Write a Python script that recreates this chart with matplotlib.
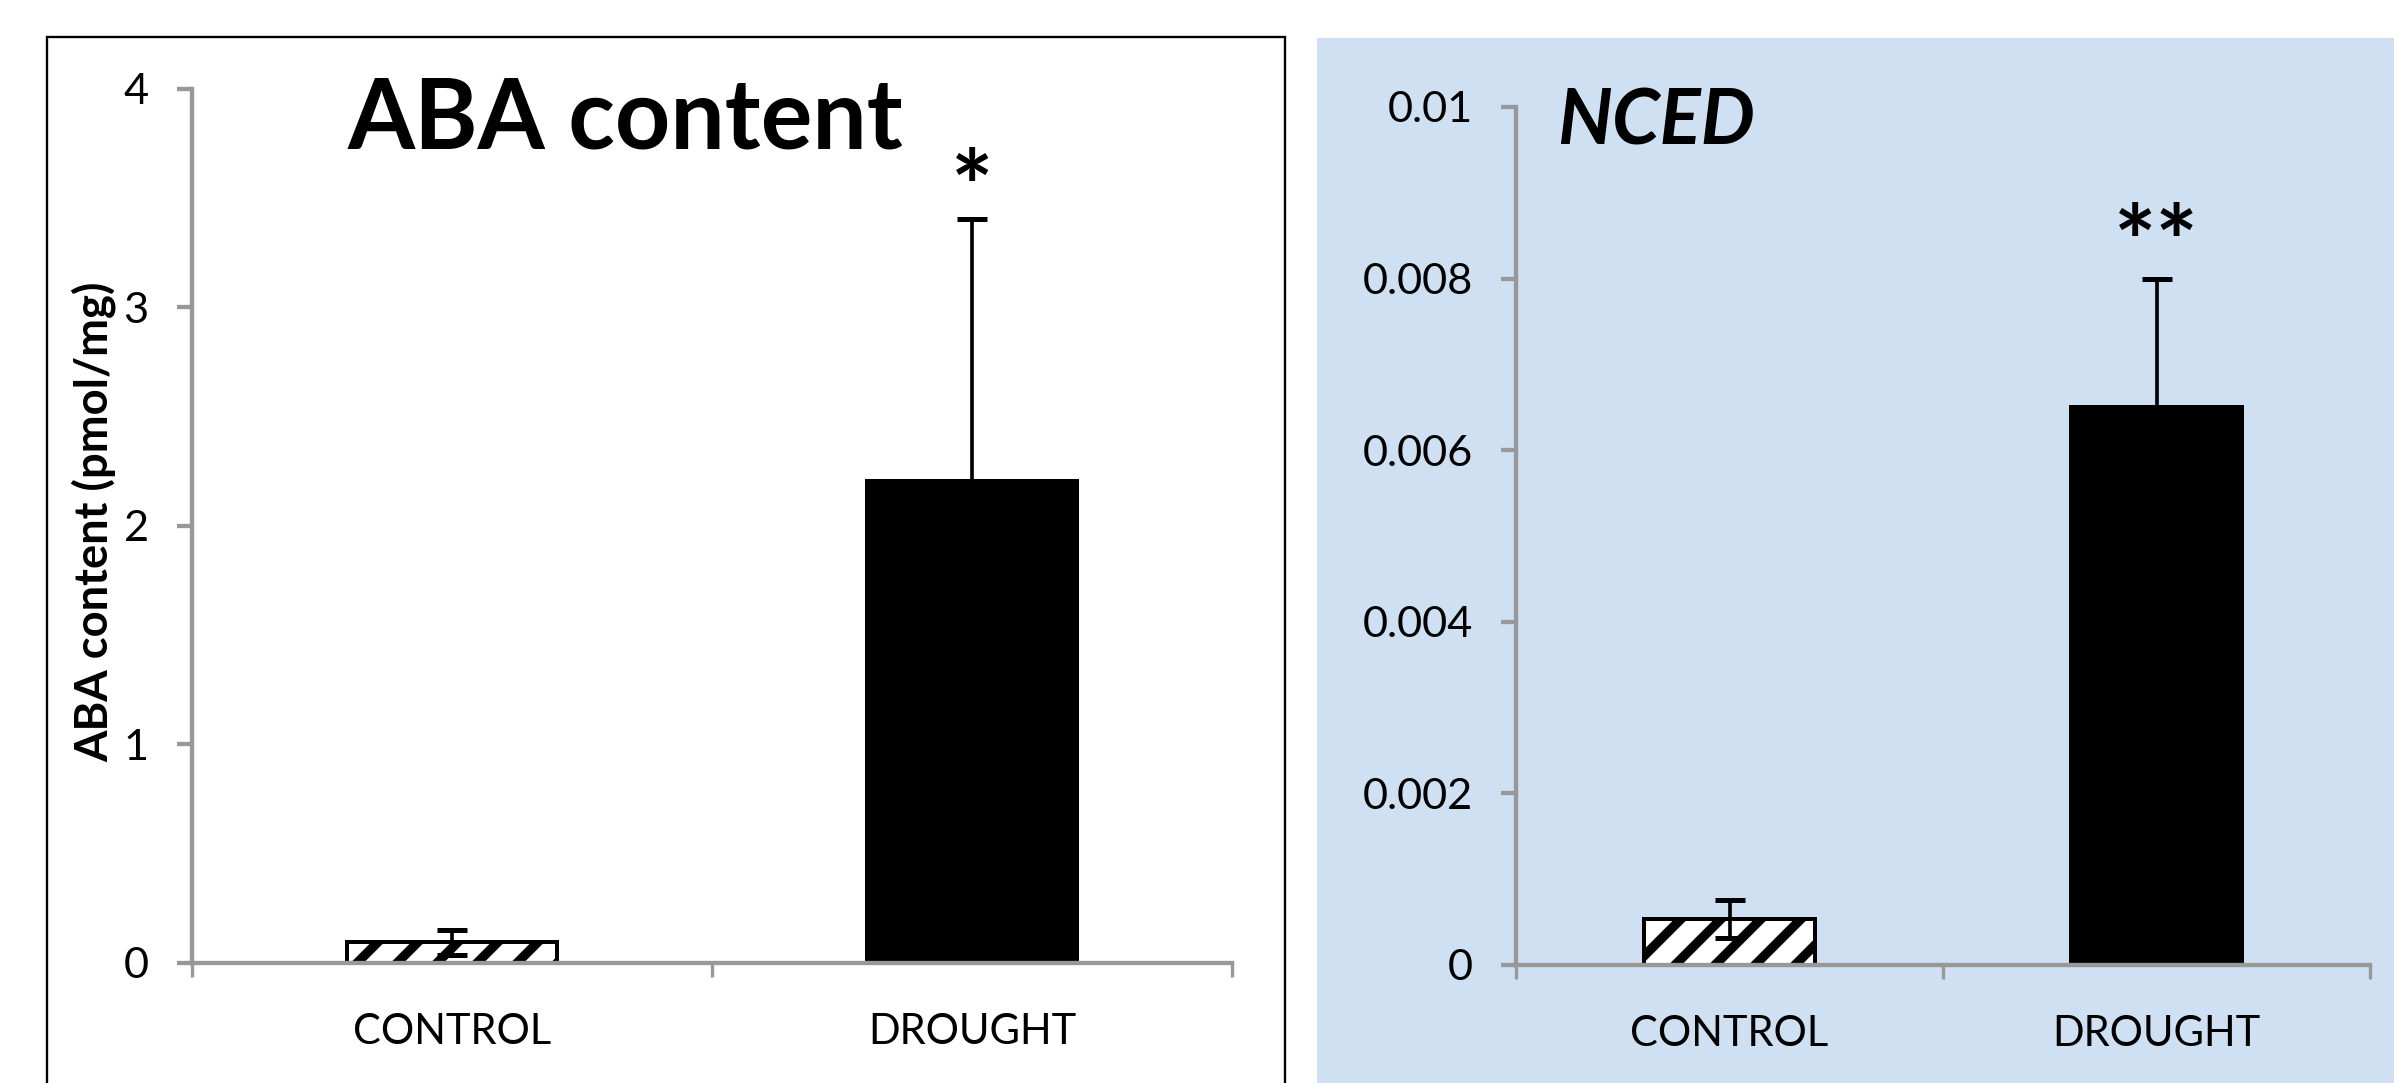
import matplotlib
matplotlib.use("Agg")
import matplotlib.pyplot as plt
from matplotlib.patches import Rectangle

# data
categories = ["CONTROL", "DROUGHT"]
aba_values = [0.095, 2.205]
aba_errors = [0.057, 1.20]
nced_values = [0.000536, 0.0065]
nced_errors = [0.000227, 0.0015]
aba_ticks = [0, 1, 2, 3, 4]
nced_ticks = [0, 0.002, 0.004, 0.006, 0.008, 0.01]
aba_marks = ["", "*"]
nced_marks = ["", "**"]

W, H, DPI = 2394, 1083, 240
plt.rcParams["font.family"] = ["Lato", "DejaVu Sans"]
plt.rcParams["hatch.linewidth"] = 2.8

AXIS_GREY = "#989898"
PANEL_BLUE = "#cfe0f2"


def fx(px):
    return px / W


def fy(py):
    return 1 - py / H


fig = plt.figure(figsize=(W / DPI, H / DPI), dpi=DPI, facecolor="white")

# panel frames, kept behind the axes
fig.patches.append(Rectangle((fx(47), fy(1100)), fx(1285) - fx(47), fy(37) - fy(1100),
                             transform=fig.transFigure, facecolor="white",
                             edgecolor="black", linewidth=0.7, zorder=-2))
fig.patches.append(Rectangle((fx(1317), 0), 1 - fx(1317), fy(38),
                             transform=fig.transFigure, facecolor=PANEL_BLUE,
                             edgecolor="none", zorder=-2))


def style_axes(ax, ticks, labels):
    ax.set_facecolor("none")
    for side in ["top", "right"]:
        ax.spines[side].set_visible(False)
    for side in ["left", "bottom"]:
        ax.spines[side].set_color(AXIS_GREY)
        ax.spines[side].set_linewidth(1.3)
    ax.set_xlim(-0.5, 1.5)
    ax.set_ylim(ticks[0], ticks[-1])
    ax.set_yticks(ticks)
    ax.set_yticklabels(labels)
    ax.tick_params(axis="y", length=4.5, width=1.3, color=AXIS_GREY,
                   labelsize=13, pad=8.5)
    # category boundaries carry the ticks, labels sit at the centres
    ax.set_xticks([-0.5, 0.5, 1.5])
    ax.set_xticklabels(["", "", ""])
    ax.tick_params(axis="x", which="major", length=4.3, width=1.0, color=AXIS_GREY)
    ax.set_xticks([0, 1], minor=True)
    ax.set_xticklabels(categories, minor=True)
    ax.tick_params(axis="x", which="minor", length=0, labelsize=12.5, pad=15)


def draw_bars(ax, values, errors, marks, width, star_size, star_offset):
    x = list(range(len(categories)))
    ax.bar(x[0], values[0], width=width, facecolor="white", edgecolor="black",
           linewidth=1.2, hatch="//", zorder=2)
    ax.bar(x[1], values[1], width=width, facecolor="black", edgecolor="black",
           linewidth=1.2, zorder=2)
    ax.errorbar(x, values, yerr=errors, fmt="none", ecolor="black",
                elinewidth=1.1, capsize=4.4, capthick=1.5, zorder=3)
    for xi, v, e, m in zip(x, values, errors, marks):
        if m:
            ax.annotate(m, xy=(xi, v + e), xytext=(0, star_offset),
                        textcoords="offset points", ha="center", va="baseline",
                        fontsize=star_size, fontweight="bold")


# ABA content panel
ax1 = fig.add_axes([fx(192), fy(963), fx(1232) - fx(192), fy(88.6) - fy(963)])
style_axes(ax1, aba_ticks, [str(t) for t in aba_ticks])
draw_bars(ax1, aba_values, aba_errors, aba_marks, 0.405, 30, -1.2)
ax1.text(0.15, 0.932, "ABA content", transform=ax1.transAxes, fontsize=29,
         fontweight="bold", ha="left", va="baseline")
fig.text(fx(94), fy(522), "ABA content (pmol/mg)", rotation=90, fontsize=13.6,
         fontweight="bold", ha="center", va="center")

# NCED panel
ax2 = fig.add_axes([fx(1516), fy(965), fx(2370) - fx(1516), fy(107) - fy(965)])
style_axes(ax2, nced_ticks, [f"{t:g}" for t in nced_ticks])
draw_bars(ax2, nced_values, nced_errors, nced_marks, 0.40, 30, 0.2)
ax2.text(0.048, 0.956, "NCED", transform=ax2.transAxes, fontsize=23,
         fontweight="bold", fontstyle="italic", ha="left", va="baseline")

fig.savefig("out.png", dpi=DPI, facecolor="white")
